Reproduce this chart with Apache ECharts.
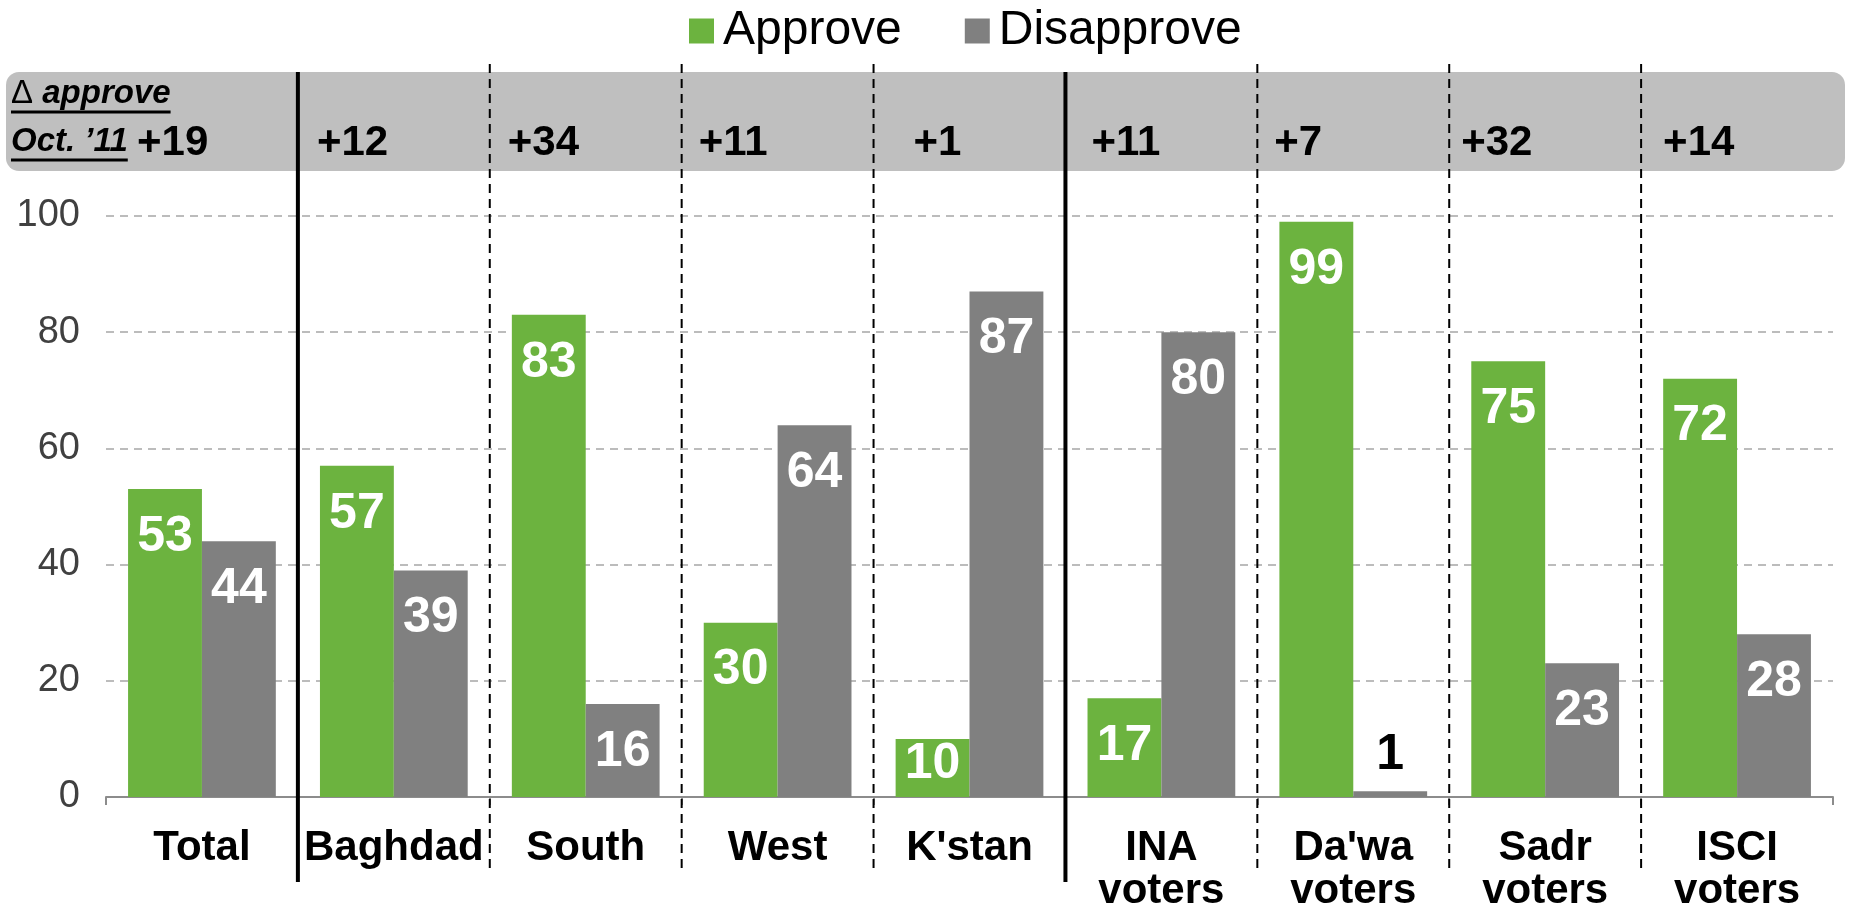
<!DOCTYPE html>
<html>
<head>
<meta charset="utf-8">
<script src="https://cdn.jsdelivr.net/npm/echarts@6/dist/echarts.min.js"></script>
<style>
  html, body { margin: 0; padding: 0; background: #fff; }
  #chart { width: 1849px; height: 910px; }
</style>
</head>
<body>
<div id="chart"></div>
<script>
var categories = ['Total', 'Baghdad', 'South', 'West', "K'stan", 'INA\nvoters', "Da'wa\nvoters", 'Sadr\nvoters', 'ISCI\nvoters'];
var approve = [53, 57, 83, 30, 10, 17, 99, 75, 72];
var disapprove = [44, 39, 16, 64, 87, 80, 1, 23, 28];
var deltaApprove = ['+19', '+12', '+34', '+11', '+1', '+11', '+7', '+32', '+14'];
var solidAfter = [0, 4];   // thick separators after these categories
var yTicks = [0, 20, 40, 60, 80, 100];

// small nudges of the delta text from the left edge of each column (px)
var headerOffsets = [0, 19, 18, 17, 40, 26, 17, 12, 22];

var GREEN = '#6cb33f';
var GREY = '#808080';
var ARIAL = "'Liberation Sans', Arial, sans-serif";

var chart = echarts.init(document.getElementById('chart'));

var approveData = approve.map(function(v) {
	if (v <= 12) {
		return { value: v, label: { distance: 0 } };
	}
	return v;
});

var disapproveData = disapprove.map(function(v) {
	if (v < 5) {
		return { value: v, label: { position: 'top', color: '#000', distance: 11 } };
	}
	return v;
});

var barLabel = {
	show: true,
	position: 'insideTop',
	distance: 23,
	color: '#fff',
	fontFamily: ARIAL,
	fontWeight: 'bold',
	fontSize: 50
};

var option = {
	animation: false,
	legend: {
		top: 2,
		left: 684,
		itemWidth: 25,
		itemHeight: 25,
		itemGap: 63,
		icon: 'rect',
		textStyle: { fontFamily: ARIAL, fontSize: 48, color: '#000', padding: [0, 0, 0, 4] },
		data: ['Approve', 'Disapprove']
	},
	grid: { left: 106, right: 16, top: 216, bottom: 113, containLabel: false, outerBoundsMode: 'none' },
	xAxis: {
		type: 'category',
		data: categories,
		axisLine: { lineStyle: { color: '#8c8c8c', width: 2 } },
		axisTick: { show: true, length: 8, lineStyle: { color: '#8c8c8c', width: 2 } },
		axisLabel: {
			interval: 0,
			margin: 30,
			fontFamily: ARIAL,
			fontWeight: 'bold',
			fontSize: 42,
			lineHeight: 43,
			color: '#000'
		}
	},
	yAxis: {
		type: 'value',
		min: yTicks[0],
		max: yTicks[yTicks.length - 1],
		interval: 20,
		axisLine: { show: false },
		axisTick: { show: false },
		axisLabel: { margin: 26, fontFamily: ARIAL, fontSize: 38, color: '#404040' },
		splitLine: { lineStyle: { color: '#a6a6a6', type: [8, 6], width: 1.5 } }
	},
	series: [{
		name: 'Approve',
		type: 'bar',
		data: approveData,
		barGap: '0%',
		barCategoryGap: '23%',
		itemStyle: { color: GREEN },
		label: barLabel
	}, {
		name: 'Disapprove',
		type: 'bar',
		data: disapproveData,
		itemStyle: { color: GREY },
		label: barLabel
	}]
};

chart.setOption(option);

// header band, delta values and separators, placed from the category axis
var measureCtx = document.createElement('canvas').getContext('2d');
function textWidth(str, font) {
	measureCtx.font = font;
	return measureCtx.measureText(str).width;
}

var x0 = chart.convertToPixel({ xAxisIndex: 0 }, 0);
var x1 = chart.convertToPixel({ xAxisIndex: 0 }, 1);
var band = x1 - x0;
var bandTop = 72, bandBottom = 171;

var graphics = [{
	type: 'rect',
	shape: { x: 6, y: bandTop, width: 1839, height: bandBottom - bandTop, r: 13 },
	style: { fill: '#bfbfbf' },
	z: -1
}];

for (var i = 0; i < categories.length; i++) {
	var cx = chart.convertToPixel({ xAxisIndex: 0 }, i);
	var left = cx - band / 2;
	var tx = i === 0 ? 137 : left + headerOffsets[i];
	graphics.push({
		type: 'text',
		x: tx,
		y: 143,
		style: {
			text: deltaApprove[i],
			fontFamily: ARIAL,
			fontWeight: 'bold',
			fontSize: 42,
			fill: '#000',
			verticalAlign: 'middle'
		},
		z: 5
	});
	if (i < categories.length - 1) {
		var bx = cx + band / 2;
		var solid = solidAfter.indexOf(i) >= 0;
		graphics.push({
			type: 'line',
			shape: { x1: bx, y1: solid ? 72 : 64, x2: bx, y2: solid ? 882 : 874 },
			style: { stroke: '#000', lineWidth: solid ? 4 : 2, lineDash: solid ? null : [9, 6] },
			z: 6
		});
	}
}

// "Δ approve / Oct. ’11" caption with underlines
var capItalic = 'italic bold 33px ' + ARIAL;
var capPlain = '33px ' + ARIAL;
var captions = [
	{ plain: '\u0394 ', italic: 'approve', y: 94 },
	{ plain: '', italic: 'Oct. \u201911', y: 142 }
];
captions.forEach(function(c) {
	graphics.push({
		type: 'text',
		x: 11,
		y: c.y,
		style: {
			text: (c.plain ? '{p|' + c.plain + '}' : '') + '{i|' + c.italic + '}',
			verticalAlign: 'middle',
			rich: {
				p: { fontFamily: ARIAL, fontSize: 33, fill: '#000' },
				i: { fontFamily: ARIAL, fontSize: 33, fontStyle: 'italic', fontWeight: 'bold', fill: '#000' }
			}
		},
		z: 5
	});
	var w = textWidth(c.plain, capPlain) + textWidth(c.italic, capItalic);
	graphics.push({
		type: 'line',
		shape: { x1: 11, y1: c.y + 18, x2: 11 + w, y2: c.y + 18 },
		style: { stroke: '#000', lineWidth: 3 },
		z: 5
	});
});

chart.setOption({ graphic: graphics });
</script>
</body>
</html>
